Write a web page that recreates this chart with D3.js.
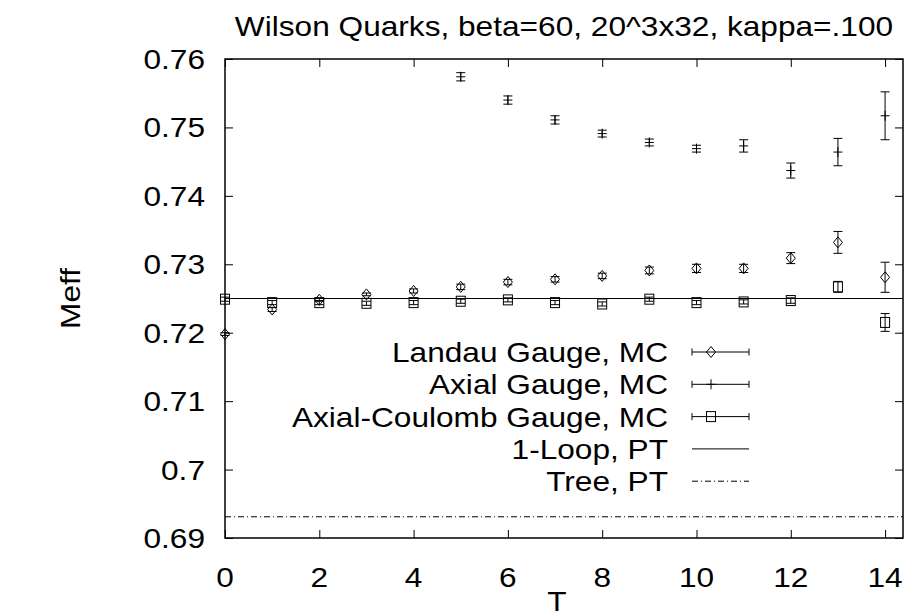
<!DOCTYPE html>
<html>
<head>
<meta charset="utf-8">
<script src="https://cdn.jsdelivr.net/npm/d3@7"></script>
<style>
  body { margin: 0; background: #fff; }
  text { font-family: "Liberation Sans", Arial, sans-serif; fill: #000; }
</style>
</head>
<body>
<svg id="chart" width="908" height="611"></svg>
<script>
// Meff vs T, three gauges + perturbative lines
var tVals = [0,1,2,3,4,5,6,7,8,9,10,11,12,13,14];
var landauM   = [0.7198,0.7234,0.7248,0.7256,0.7261,0.7267,0.7274,0.7278,0.7283,0.7291,0.7294,0.7294,0.7309,0.7332,0.7281];
var landauErr = [0.0002,0.0003,0.0002,0.0002,0.0003,0.0004,0.0004,0.0004,0.0004,0.0005,0.0006,0.0006,0.0008,0.0016,0.0022];
var axialT    = [5,6,7,8,9,10,11,12,13,14];
var axialM    = [0.7574,0.7540,0.7511,0.7491,0.7478,0.7469,0.7473,0.7437,0.7464,0.7517];
var axialErr  = [0.0006,0.0006,0.0006,0.0005,0.0005,0.0005,0.0009,0.0011,0.0020,0.0035];
var acM       = [0.7249,0.7244,0.7244,0.7243,0.7244,0.7246,0.7248,0.7244,0.7242,0.7249,0.7244,0.7245,0.7247,0.7267,0.7215];
var acErr     = [0.0003,0.0003,0.0003,0.0003,0.0003,0.0003,0.0003,0.0003,0.0003,0.0003,0.0003,0.0003,0.0004,0.0008,0.0013];
var oneLoop = 0.7250;
var treeLevel = 0.6931;
var xTicks = [0,2,4,6,8,10,12,14];
var yTicks = [0.69,0.70,0.71,0.72,0.73,0.74,0.75,0.76];
var legendLabels = ["Landau Gauge, MC","Axial Gauge, MC","Axial-Coulomb Gauge, MC","1-Loop, PT","Tree, PT"];
var titleText = "Wilson Quarks, beta=60, 20^3x32, kappa=.100";

function drawChart(){
	var pL = 225, pR = 903, pT = 59, pB = 538;
	var fs = 28, sx = 1.13;

	var svg = d3.select("#chart");
	var x = d3.scaleLinear().domain([0, 14.38]).range([pL, pR]);
	var y = d3.scaleLinear().domain([0.69, 0.76]).range([pB, pT]);

	function label(px, py, str, anchor, rot){
		return svg.append("text")
			.attr("transform", "translate(" + px + "," + py + ")" + (rot ? " rotate(" + rot + ")" : "") + " scale(" + sx + ",1)")
			.attr("text-anchor", anchor)
			.style("font-size", fs + "px")
			.text(str);
	}

	// axes with inward ticks on all sides
	function axisStyle(g){
		g.select(".domain").remove();
		g.selectAll("line").attr("stroke", "#000").attr("stroke-width", 1);
		g.selectAll("text").remove();
	}
	svg.append("g").attr("transform", "translate(0," + pB + ")")
		.call(d3.axisBottom(x).tickValues(xTicks).tickSize(-8)).call(axisStyle);
	svg.append("g").attr("transform", "translate(0," + pT + ")")
		.call(d3.axisTop(x).tickValues(xTicks).tickSize(-8)).call(axisStyle);
	svg.append("g").attr("transform", "translate(" + pL + ",0)")
		.call(d3.axisLeft(y).tickValues(yTicks).tickSize(-8)).call(axisStyle);
	svg.append("g").attr("transform", "translate(" + pR + ",0)")
		.call(d3.axisRight(y).tickValues(yTicks).tickSize(-8)).call(axisStyle);

	svg.append("rect").attr("x", pL).attr("y", pT)
		.attr("width", pR - pL).attr("height", pB - pT)
		.attr("fill", "none").attr("stroke", "#000").attr("stroke-width", 1.5);

	xTicks.forEach(function(t){ label(x(t), 587, String(t), "middle"); });
	yTicks.forEach(function(v){ label(pL - 20, y(v) + 10, String(+v.toFixed(2)), "end"); });

	label(564, 36, titleText, "middle");
	label(557, 611, "T", "middle");
	label(80, (pT + pB) / 2, "Meff", "middle", -90);

	// reference lines
	svg.append("line").attr("x1", pL).attr("x2", pR)
		.attr("y1", y(oneLoop)).attr("y2", y(oneLoop))
		.attr("stroke", "#000").attr("stroke-width", 1);
	svg.append("line").attr("x1", pL).attr("x2", pR)
		.attr("y1", y(treeLevel)).attr("y2", y(treeLevel))
		.attr("stroke", "#000").attr("stroke-width", 1).attr("stroke-dasharray", "6,3,1,3");

	// error bars + symbols
	function errBars(ts, ms, es){
		var g = svg.append("g").attr("stroke", "#000").attr("stroke-width", 1).attr("fill", "none");
		ts.forEach(function(t, i){
			var cx = x(t), y1 = y(ms[i] - es[i]), y2 = y(ms[i] + es[i]);
			g.append("line").attr("x1", cx).attr("x2", cx).attr("y1", y1).attr("y2", y2);
			g.append("line").attr("x1", cx - 4.5).attr("x2", cx + 4.5).attr("y1", y1).attr("y2", y1);
			g.append("line").attr("x1", cx - 4.5).attr("x2", cx + 4.5).attr("y1", y2).attr("y2", y2);
		});
		return g;
	}
	function diamond(g, cx, cy){
		g.append("path").attr("d", "M" + (cx - 4.5) + "," + cy + "L" + cx + "," + (cy - 5.5) +
			"L" + (cx + 4.5) + "," + cy + "L" + cx + "," + (cy + 5.5) + "Z");
	}
	function plus(g, cx, cy){
		g.append("line").attr("x1", cx - 4.5).attr("x2", cx + 4.5).attr("y1", cy).attr("y2", cy);
		g.append("line").attr("x1", cx).attr("x2", cx).attr("y1", cy - 5).attr("y2", cy + 5);
	}
	function square(g, cx, cy){
		g.append("rect").attr("x", cx - 4.5).attr("y", cy - 5).attr("width", 9).attr("height", 10);
	}

	var gL = errBars(tVals, landauM, landauErr);
	tVals.forEach(function(t, i){ diamond(gL, x(t), y(landauM[i])); });
	var gA = errBars(axialT, axialM, axialErr);
	axialT.forEach(function(t, i){ plus(gA, x(t), y(axialM[i])); });
	var gC = errBars(tVals, acM, acErr);
	tVals.forEach(function(t, i){ square(gC, x(t), y(acM[i])); });

	// legend
	var lg = svg.append("g").attr("stroke", "#000").attr("stroke-width", 1).attr("fill", "none");
	legendLabels.forEach(function(s, i){
		var ry = 352 + i * 32.3;
		label(668, ry + 10, s, "end");
		lg.append("line").attr("x1", 692).attr("x2", 749).attr("y1", ry).attr("y2", ry)
			.attr("stroke-dasharray", i === 4 ? "6,3,1,3" : null);
		if (i < 3) {
			lg.append("line").attr("x1", 692).attr("x2", 692).attr("y1", ry - 3.5).attr("y2", ry + 3.5);
			lg.append("line").attr("x1", 749).attr("x2", 749).attr("y1", ry - 3.5).attr("y2", ry + 3.5);
		}
		if (i === 0) diamond(lg, 711, ry);
		if (i === 1) plus(lg, 711, ry);
		if (i === 2) square(lg, 711, ry);
	});
}
drawChart();
</script>
</body>
</html>
